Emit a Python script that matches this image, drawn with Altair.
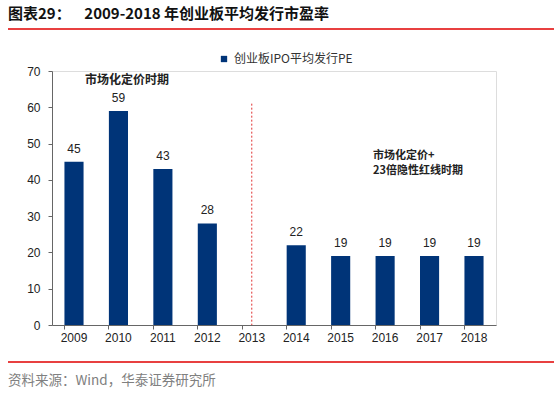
import altair as alt
import pandas as pd

years = ["2009", "2010", "2011", "2012", "2013", "2014", "2015", "2016", "2017", "2018"]
pe_values = [45, 59, 43, 28, None, 22, 19, 19, 19, 19]
series_name = "创业板IPO平均发行PE"
divider_year = "2013"
divider_top = 61

title_text = "图表29：\u00a0\u00a0\u00a0\u00a02009-2018 年创业板平均发行市盈率"
source_text = "资料来源：Wind，华泰证券研究所"
note1 = "市场化定价时期"
note2a = "市场化定价+"
note2b = "23倍隐性红线时期"

FONT = "Liberation Sans, Arial, Noto Sans CJK SC"
CJK = "Noto Sans CJK SC"

df = pd.DataFrame({"year": years, "pe": pe_values, "series": series_name})
bars_df = df.dropna()

xscale = alt.Scale(domain=years, paddingInner=0.57, paddingOuter=0.28)
yscale = alt.Scale(domain=[0, 70])

x_main = alt.X("year:N", sort=years, title=None, scale=xscale,
               axis=alt.Axis(orient="bottom", labelAngle=0, labelFont=FONT, labelFontSize=12,
                             labelColor="#222", domainColor="#666", ticks=False, labelPadding=7))
x_none = alt.X("year:N", sort=years, title=None, scale=xscale, axis=None)
y_main = alt.Y("pe:Q", title=None, scale=yscale,
               axis=alt.Axis(values=[0, 10, 20, 30, 40, 50, 60, 70], grid=False, labelFont=FONT,
                             labelFontSize=12, labelColor="#222", domainColor="#666",
                             tickColor="#666", tickSize=4, labelPadding=8))

base = alt.Chart(bars_df)

bars = base.mark_bar(color="#003478").encode(
    x=x_main, y=y_main,
    color=alt.Color("series:N", scale=alt.Scale(range=["#003478"]),
                    legend=alt.Legend(title=None, orient="none", legendX=166, legendY=-18,
                                      symbolType="square", symbolSize=40, labelFont=CJK,
                                      labelFontSize=12, labelColor="#333", padding=0,
                                      symbolStrokeWidth=0)),
)

xticks = alt.Chart(df).mark_point(opacity=0).encode(
    x=alt.X("year:N", sort=years, title=None, scale=xscale,
            axis=alt.Axis(orient="bottom", labels=False, domain=False, ticks=True,
                          tickColor="#666", tickSize=4, bandPosition=0)),
)

labels = base.mark_text(baseline="bottom", dy=-6, font=FONT, fontSize=12, color="#222").encode(
    x=x_none, y=alt.Y("pe:Q", scale=yscale, axis=None), text=alt.Text("pe:Q", format="d"))

divider = alt.Chart(pd.DataFrame({"year": [divider_year], "top": [divider_top], "bottom": [0]})).mark_rule(
    color="#e03030", strokeDash=[2, 2], strokeWidth=1).encode(
    x=x_none, y=alt.Y("top:Q", scale=yscale, axis=None), y2="bottom:Q")

def txt(t, x, y, size, weight="normal", color="#222", font=CJK):
    return alt.Chart(pd.DataFrame({"t": [t]})).mark_text(
        align="left", baseline="middle", fontSize=size, fontWeight=weight, color=color,
        font=font).encode(text="t", x=alt.value(x), y=alt.value(y))

title_mark = txt(title_text, -44, -57, 15, weight="bold", color="#111")
source_mark = txt(source_text, -44, 310, 13.5, color="#808080")
n1 = txt(note1, 33, 9, 12, weight="bold")
n2a = txt(note2a, 321, 85, 11, weight="bold")
n2b = txt(note2b, 321, 100, 11, weight="bold")

top_line = alt.Chart(pd.DataFrame({"a": [0]})).mark_rule(color="#e00000", strokeWidth=1.5).encode(
    x=alt.value(-44), x2=alt.value(502), y=alt.value(-42))
bottom_line = alt.Chart(pd.DataFrame({"a": [0]})).mark_rule(color="#e00000", strokeWidth=1.5).encode(
    x=alt.value(-44), x2=alt.value(502), y=alt.value(291))

chart = alt.layer(bars, xticks, labels, divider, n1, n2a, n2b, title_mark, source_mark,
                  top_line, bottom_line).resolve_axis(x="independent", y="independent").properties(
    width=444, height=254,
    autosize=alt.AutoSizeParams(type="none"),
    padding={"left": 52, "top": 71, "right": 58, "bottom": 70},
).configure_view(stroke=None).configure(background="white")

chart.save("out.html", embed_options={"renderer": "svg", "actions": False})
